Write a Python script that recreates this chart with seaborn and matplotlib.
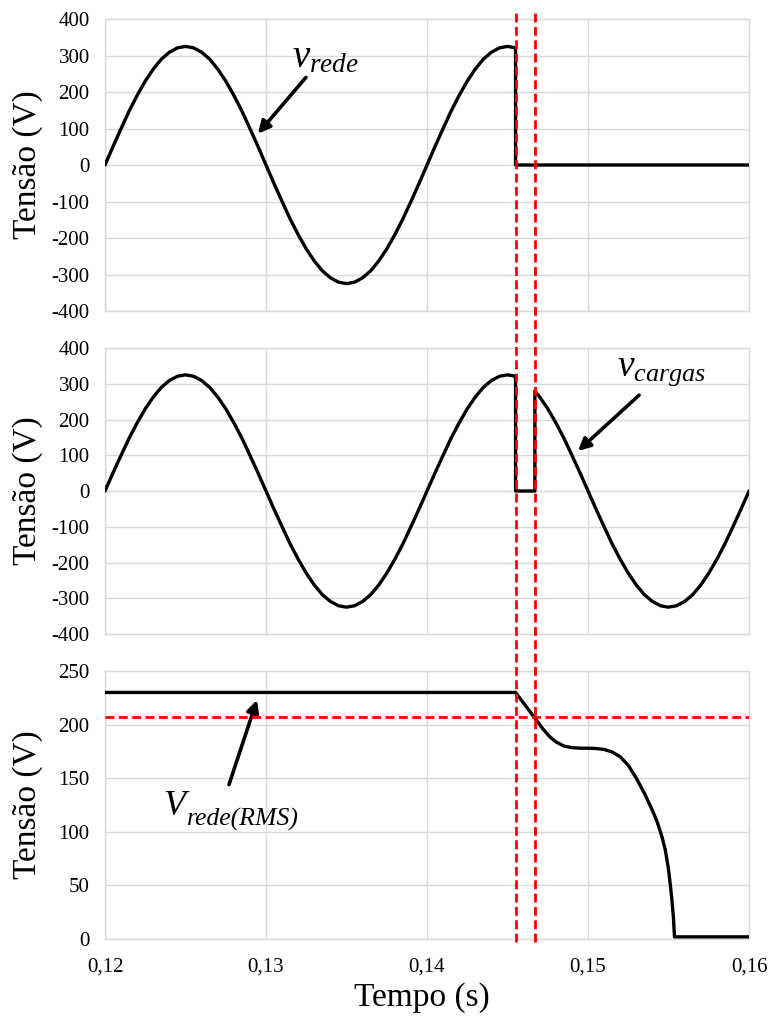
import numpy as np
import pandas as pd
import matplotlib
matplotlib.use("Agg")
import matplotlib.pyplot as plt
import matplotlib.transforms as mtransforms
from matplotlib.lines import Line2D
import seaborn as sns

# ---------------------------------------------------------------------------
# Data
# ---------------------------------------------------------------------------
# simulation sampling grid (s), 0.5 ms step
t_grid = np.round(np.arange(0.12, 0.16 + 1e-9, 0.0005), 4)

# grid voltage before the fault (V), samples 0.1200 ... 0.1455 s
v_pre_fault = [0, 51, 100, 148, 191, 230, 263, 290, 309, 321,
               325, 321, 309, 290, 263, 230, 191, 148, 100, 51,
               0, -51, -100, -148, -191, -230, -263, -290, -309, -321,
               -325, -321, -309, -290, -263, -230, -191, -148, -100, -51,
               0, 51, 100, 148, 191, 230, 263, 290, 309, 321,
               325, 321]

# load voltage after transfer (V), samples 0.1470 ... 0.1600 s
v_post_transfer = [263, 230, 191, 148, 100, 51, 0,
                   -51, -100, -148, -191, -230, -263, -290, -309, -321,
                   -325, -321, -309, -290, -263, -230, -191, -148, -100, -51,
                   0]

t_fault = 0.1455      # grid lost
t_transfer = 0.1467   # load transferred
v_restored = 280      # load voltage right after transfer
v_limit = 207         # 0.9 pu threshold on the RMS value

# grid RMS voltage (V)
t_rms = [0.1200, 0.1455, 0.1461, 0.1467, 0.1472, 0.1476, 0.1480, 0.1485,
         0.1490, 0.1495, 0.1500, 0.1505, 0.1510, 0.1515, 0.1520, 0.1525,
         0.1530, 0.1535, 0.1540, 0.1543, 0.1546, 0.1548, 0.1550, 0.1551,
         0.1552, 0.1553, 0.15537, 0.1600]
v_rms = [230, 230, 218, 206, 196, 189, 184, 180,
         178.5, 178, 178, 177.7, 176.8, 174.5, 170, 162,
         150, 136, 120, 109, 95, 83, 65, 52,
         38, 21, 2, 2]

x_ticks = [0.12, 0.13, 0.14, 0.15, 0.16]
x_tick_labels = ["0,12", "0,13", "0,14", "0,15", "0,16"]

# series tables
n_pre = len(v_pre_fault)
df_rede = pd.DataFrame({
    "t": list(t_grid[:n_pre]) + [t_fault, 0.16],
    "v": v_pre_fault + [0, 0],
})
df_cargas = pd.DataFrame({
    "t": list(t_grid[:n_pre]) + [t_fault, t_transfer, t_transfer]
         + list(t_grid[n_pre + 2:]),
    "v": v_pre_fault + [0, 0, v_restored] + v_post_transfer,
})
df_rms = pd.DataFrame({"t": t_rms, "v": v_rms})

# ---------------------------------------------------------------------------
# Style
# ---------------------------------------------------------------------------
sns.set_style("white")
plt.rcParams["font.family"] = ["Liberation Serif", "DejaVu Serif"]
plt.rcParams["mathtext.fontset"] = "custom"
plt.rcParams["mathtext.it"] = "Liberation Serif:italic"
plt.rcParams["mathtext.rm"] = "Liberation Serif"
plt.rcParams["axes.unicode_minus"] = False
for key in ("text.color", "axes.labelcolor", "xtick.color", "ytick.color"):
    plt.rcParams[key] = "black"

GRID = "#d9d9d9"
RED = "#ff0000"
LW = 2.4
DASH = dict(color=RED, lw=2.0, dashes=(3.2, 1.6))

fig = plt.figure(figsize=(7.71, 10.17), dpi=100)
ax1 = fig.add_axes([0.1362, 0.6942, 0.8353, 0.2871])
ax2 = fig.add_axes([0.1362, 0.3766, 0.8353, 0.2812])
ax3 = fig.add_axes([0.1362, 0.0767, 0.8353, 0.2635])

for ax, df in ((ax1, df_rede), (ax2, df_cargas), (ax3, df_rms)):
    sns.lineplot(data=df, x="t", y="v", ax=ax, sort=False, estimator=None,
                 color="black", lw=LW, zorder=3)
    ax.set_xlim(0.12, 0.16)
    ax.set_xticks(x_ticks)
    ax.grid(True, color=GRID, lw=1)
    ax.set_axisbelow(True)
    for s in ax.spines.values():
        s.set_color(GRID)
        s.set_linewidth(1)
    ax.tick_params(axis="both", length=0, labelsize=15, pad=11)
    ax.set_ylabel("Tensão (V)", fontsize=24)
    ax.yaxis.set_label_coords(-0.097, 0.5)
    ax.set_xlabel("")

for ax in (ax1, ax2):
    ax.set_ylim(-400, 400)
    ax.set_yticks(range(-400, 401, 100))
    ax.set_xticklabels([])

ax3.set_ylim(0, 250)
ax3.set_yticks(range(0, 251, 50))
ax3.set_xticklabels(x_tick_labels)
ax3.tick_params(axis="x", pad=13)
ax3.set_xlabel("Tempo (s)", fontsize=24)
ax3.xaxis.set_label_coords(0.492, -0.16)

# 0.9 pu limit
ax3.axhline(v_limit, zorder=4, **DASH)

# fault and transfer instants across all panels
trans = mtransforms.blended_transform_factory(ax3.transData, fig.transFigure)
for xv in (t_fault, t_transfer):
    fig.add_artist(Line2D([xv, xv], [0.0737, 0.988], transform=trans,
                          zorder=5, **DASH))

# labels with arrows
arrow = dict(arrowstyle="-|>", color="black", lw=2.6, mutation_scale=18,
             shrinkA=0, shrinkB=0)

ax1.text(0.1316, 267, r"$v_{rede}$", fontsize=28, ha="left", va="baseline")
ax1.annotate("", xy=(0.1295, 86), xytext=(0.13248, 240), arrowprops=arrow)

ax2.text(0.1518, 324, r"$v_{cargas}$", fontsize=27, ha="left", va="baseline")
ax2.annotate("", xy=(0.14938, 112), xytext=(0.15317, 268), arrowprops=arrow)

ax3.text(0.1236, 116, "V", fontsize=26, style="italic",
         ha="left", va="baseline")
ax3.text(0.12509, 106, "rede(RMS)", fontsize=18.5, style="italic",
         ha="left", va="baseline")
ax3.annotate("", xy=(0.12944, 223), xytext=(0.1277, 144), arrowprops=arrow)

fig.savefig("out.png", dpi=100)
